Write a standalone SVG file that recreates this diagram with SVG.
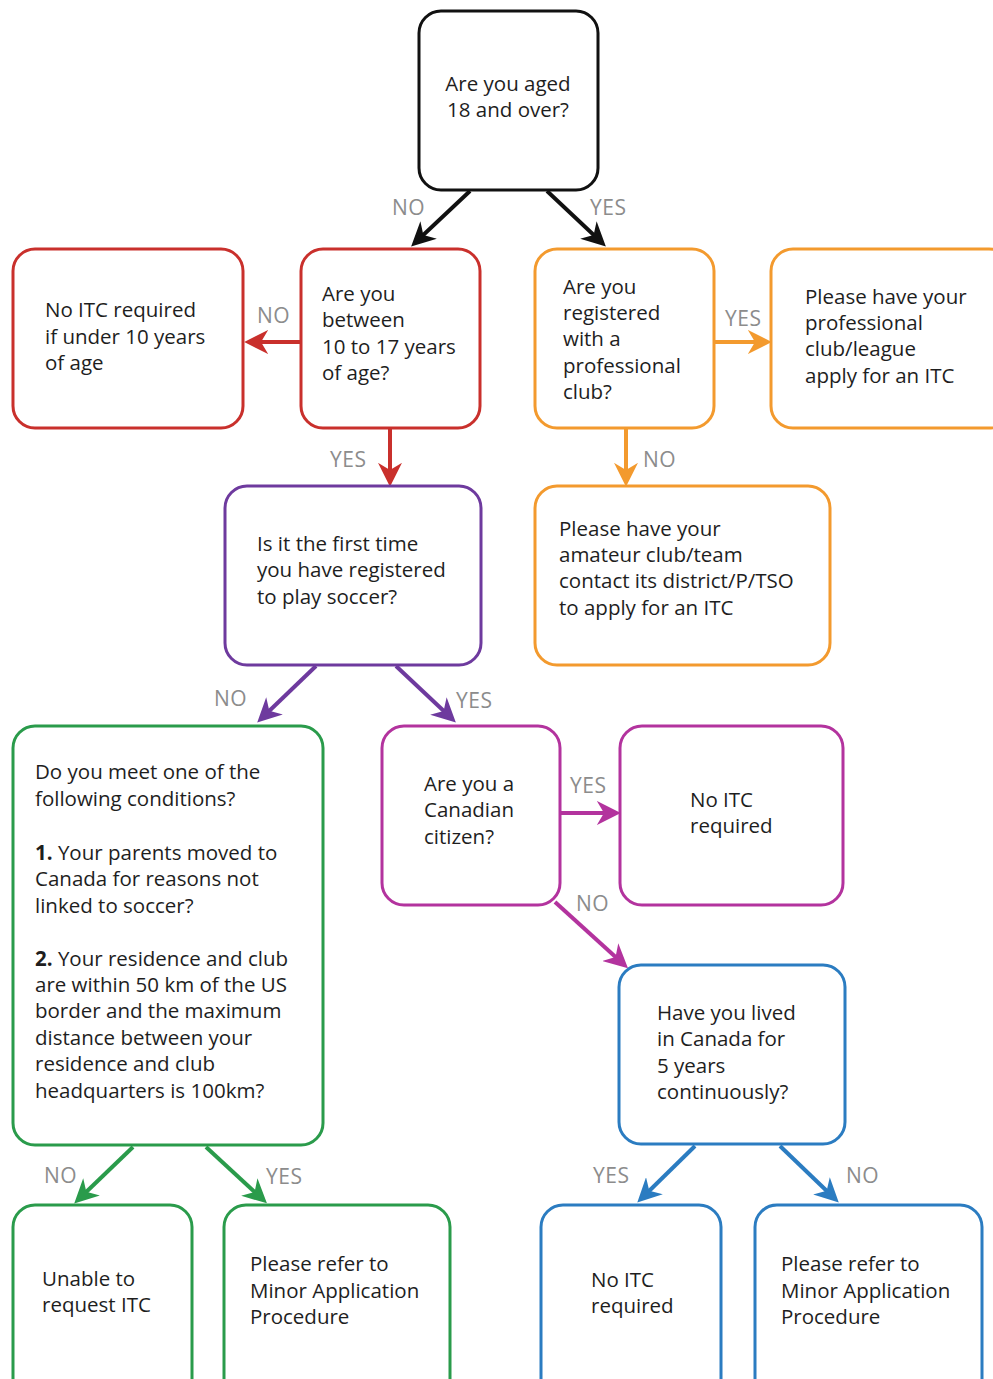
<svg xmlns="http://www.w3.org/2000/svg" width="993" height="1379" viewBox="0 0 993 1379">
<style>
.box{fill:#fff;stroke-width:3}
.t{font-family:"Open Sans","Noto Sans",sans-serif;font-size:20.5px;fill:#1e1e1e}
.lbl{font-family:"Open Sans","Noto Sans",sans-serif;font-size:21px;fill:#8c8c8c;letter-spacing:0.5px}
.c{fill:none;stroke-width:4}
.k{stroke:#111}.r{stroke:#c9302c}.o{stroke:#f39a2e}.p{stroke:#6e3a9e}.g{stroke:#2a9b4b}.m{stroke:#b3339e}.b{stroke:#2b7cc1}
</style>
<defs>
<marker id="ak" viewBox="0 0 20 20" refX="11" refY="10" markerWidth="24" markerHeight="24" markerUnits="userSpaceOnUse" orient="auto"><path d="M0,0 L20,10 L0,20 L6,10 z" fill="#111"/></marker>
<marker id="ar" viewBox="0 0 20 20" refX="11" refY="10" markerWidth="24" markerHeight="24" markerUnits="userSpaceOnUse" orient="auto"><path d="M0,0 L20,10 L0,20 L6,10 z" fill="#c9302c"/></marker>
<marker id="ao" viewBox="0 0 20 20" refX="11" refY="10" markerWidth="24" markerHeight="24" markerUnits="userSpaceOnUse" orient="auto"><path d="M0,0 L20,10 L0,20 L6,10 z" fill="#f39a2e"/></marker>
<marker id="ap" viewBox="0 0 20 20" refX="11" refY="10" markerWidth="24" markerHeight="24" markerUnits="userSpaceOnUse" orient="auto"><path d="M0,0 L20,10 L0,20 L6,10 z" fill="#6e3a9e"/></marker>
<marker id="ag" viewBox="0 0 20 20" refX="11" refY="10" markerWidth="24" markerHeight="24" markerUnits="userSpaceOnUse" orient="auto"><path d="M0,0 L20,10 L0,20 L6,10 z" fill="#2a9b4b"/></marker>
<marker id="am" viewBox="0 0 20 20" refX="11" refY="10" markerWidth="24" markerHeight="24" markerUnits="userSpaceOnUse" orient="auto"><path d="M0,0 L20,10 L0,20 L6,10 z" fill="#b3339e"/></marker>
<marker id="ab" viewBox="0 0 20 20" refX="11" refY="10" markerWidth="24" markerHeight="24" markerUnits="userSpaceOnUse" orient="auto"><path d="M0,0 L20,10 L0,20 L6,10 z" fill="#2b7cc1"/></marker>
</defs>
<rect width="993" height="1379" fill="#fff"/>

<g id="connectors">
<line class="c k" x1="470" y1="191" x2="419" y2="239" marker-end="url(#ak)"/>
<line class="c k" x1="547" y1="191" x2="598" y2="239" marker-end="url(#ak)"/>
<line class="c r" x1="301" y1="342" x2="255" y2="342" marker-end="url(#ar)"/>
<line class="c o" x1="714" y1="342" x2="761" y2="342" marker-end="url(#ao)"/>
<line class="c r" x1="390" y1="428" x2="390" y2="476" marker-end="url(#ar)"/>
<line class="c o" x1="626" y1="428" x2="626" y2="476" marker-end="url(#ao)"/>
<line class="c p" x1="316" y1="666" x2="265" y2="715" marker-end="url(#ap)"/>
<line class="c p" x1="396" y1="666" x2="448" y2="715" marker-end="url(#ap)"/>
<line class="c m" x1="560" y1="813" x2="610" y2="813" marker-end="url(#am)"/>
<line class="c m" x1="555" y1="902" x2="620" y2="961" marker-end="url(#am)"/>
<line class="c g" x1="133" y1="1147" x2="82" y2="1196" marker-end="url(#ag)"/>
<line class="c g" x1="206" y1="1147" x2="259" y2="1196" marker-end="url(#ag)"/>
<line class="c b" x1="695" y1="1146" x2="645" y2="1195" marker-end="url(#ab)"/>
<line class="c b" x1="780" y1="1146" x2="831" y2="1195" marker-end="url(#ab)"/>
<text class="lbl" x="392" y="215">NO</text>
<text class="lbl" x="590" y="215">YES</text>
<text class="lbl" x="257" y="323">NO</text>
<text class="lbl" x="725" y="326">YES</text>
<text class="lbl" x="330" y="467">YES</text>
<text class="lbl" x="643" y="467">NO</text>
<text class="lbl" x="214" y="706">NO</text>
<text class="lbl" x="456" y="708">YES</text>
<text class="lbl" x="570" y="793">YES</text>
<text class="lbl" x="576" y="911">NO</text>
<text class="lbl" x="44" y="1183">NO</text>
<text class="lbl" x="266" y="1184">YES</text>
<text class="lbl" x="593" y="1183">YES</text>
<text class="lbl" x="846" y="1183">NO</text>
</g>

<g id="n-aged"><rect class="box" x="419" y="11" width="179" height="179" rx="22" stroke="#111"/>
<text class="t" x="508" y="91" text-anchor="middle">Are you aged</text><text class="t" x="508" y="117" text-anchor="middle">18 and over?</text></g>

<g id="n-under10"><rect class="box" x="13" y="249" width="230" height="179" rx="22" stroke="#c9302c"/>
<text class="t" x="45" y="317">No ITC required</text><text class="t" x="45" y="344">if under 10 years</text><text class="t" x="45" y="370">of age</text></g>

<g id="n-between"><rect class="box" x="301" y="249" width="179" height="179" rx="22" stroke="#c9302c"/>
<text class="t" x="322" y="301">Are you</text><text class="t" x="322" y="327">between</text><text class="t" x="322" y="354">10 to 17 years</text><text class="t" x="322" y="380">of age?</text></g>

<g id="n-registered"><rect class="box" x="535" y="249" width="179" height="179" rx="22" stroke="#f39a2e"/>
<text class="t" x="563" y="294">Are you</text><text class="t" x="563" y="320">registered</text><text class="t" x="563" y="346">with a</text><text class="t" x="563" y="373">professional</text><text class="t" x="563" y="399">club?</text></g>

<g id="n-proclub"><rect class="box" x="771" y="249" width="240" height="179" rx="22" stroke="#f39a2e"/>
<text class="t" x="805" y="304">Please have your</text><text class="t" x="805" y="330">professional</text><text class="t" x="805" y="356">club/league</text><text class="t" x="805" y="383">apply for an ITC</text></g>

<g id="n-firsttime"><rect class="box" x="225" y="486" width="256" height="179" rx="22" stroke="#6e3a9e"/>
<text class="t" x="257" y="551">Is it the first time</text><text class="t" x="257" y="577">you have registered</text><text class="t" x="257" y="604">to play soccer?</text></g>

<g id="n-amateur"><rect class="box" x="535" y="486" width="295" height="179" rx="22" stroke="#f39a2e"/>
<text class="t" x="559" y="536">Please have your</text><text class="t" x="559" y="562">amateur club/team</text><text class="t" x="559" y="588">contact its district/P/TSO</text><text class="t" x="559" y="615">to apply for an ITC</text></g>

<g id="n-conditions"><rect class="box" x="13" y="726" width="310" height="419" rx="22" stroke="#2a9b4b"/>
<text class="t" x="35" y="779">Do you meet one of the</text>
<text class="t" x="35" y="806">following conditions?</text>
<text class="t" x="35" y="860"><tspan font-weight="bold">1.</tspan> Your parents moved to</text>
<text class="t" x="35" y="886">Canada for reasons not</text>
<text class="t" x="35" y="913">linked to soccer?</text>
<text class="t" x="35" y="966"><tspan font-weight="bold">2.</tspan> Your residence and club</text>
<text class="t" x="35" y="992">are within 50 km of the US</text>
<text class="t" x="35" y="1018">border and the maximum</text>
<text class="t" x="35" y="1045">distance between your</text>
<text class="t" x="35" y="1071">residence and club</text>
<text class="t" x="35" y="1098">headquarters is 100km?</text></g>

<g id="n-citizen"><rect class="box" x="382" y="726" width="178" height="179" rx="22" stroke="#b3339e"/>
<text class="t" x="424" y="791">Are you a</text><text class="t" x="424" y="817">Canadian</text><text class="t" x="424" y="844">citizen?</text></g>

<g id="n-noitc1"><rect class="box" x="620" y="726" width="223" height="179" rx="22" stroke="#b3339e"/>
<text class="t" x="690" y="807">No ITC</text><text class="t" x="690" y="833">required</text></g>

<g id="n-lived"><rect class="box" x="619" y="965" width="226" height="179" rx="22" stroke="#2b7cc1"/>
<text class="t" x="657" y="1020">Have you lived</text><text class="t" x="657" y="1046">in Canada for</text><text class="t" x="657" y="1073">5 years</text><text class="t" x="657" y="1099">continuously?</text></g>

<g id="n-unable"><rect class="box" x="13" y="1205" width="179" height="200" rx="22" stroke="#2a9b4b"/>
<text class="t" x="42" y="1286">Unable to</text><text class="t" x="42" y="1312">request ITC</text></g>

<g id="n-minor1"><rect class="box" x="224" y="1205" width="226" height="200" rx="22" stroke="#2a9b4b"/>
<text class="t" x="250" y="1271">Please refer to</text><text class="t" x="250" y="1298">Minor Application</text><text class="t" x="250" y="1324">Procedure</text></g>

<g id="n-noitc2"><rect class="box" x="541" y="1205" width="180" height="200" rx="22" stroke="#2b7cc1"/>
<text class="t" x="591" y="1287">No ITC</text><text class="t" x="591" y="1313">required</text></g>

<g id="n-minor2"><rect class="box" x="755" y="1205" width="227" height="200" rx="22" stroke="#2b7cc1"/>
<text class="t" x="781" y="1271">Please refer to</text><text class="t" x="781" y="1298">Minor Application</text><text class="t" x="781" y="1324">Procedure</text></g>
</svg>
